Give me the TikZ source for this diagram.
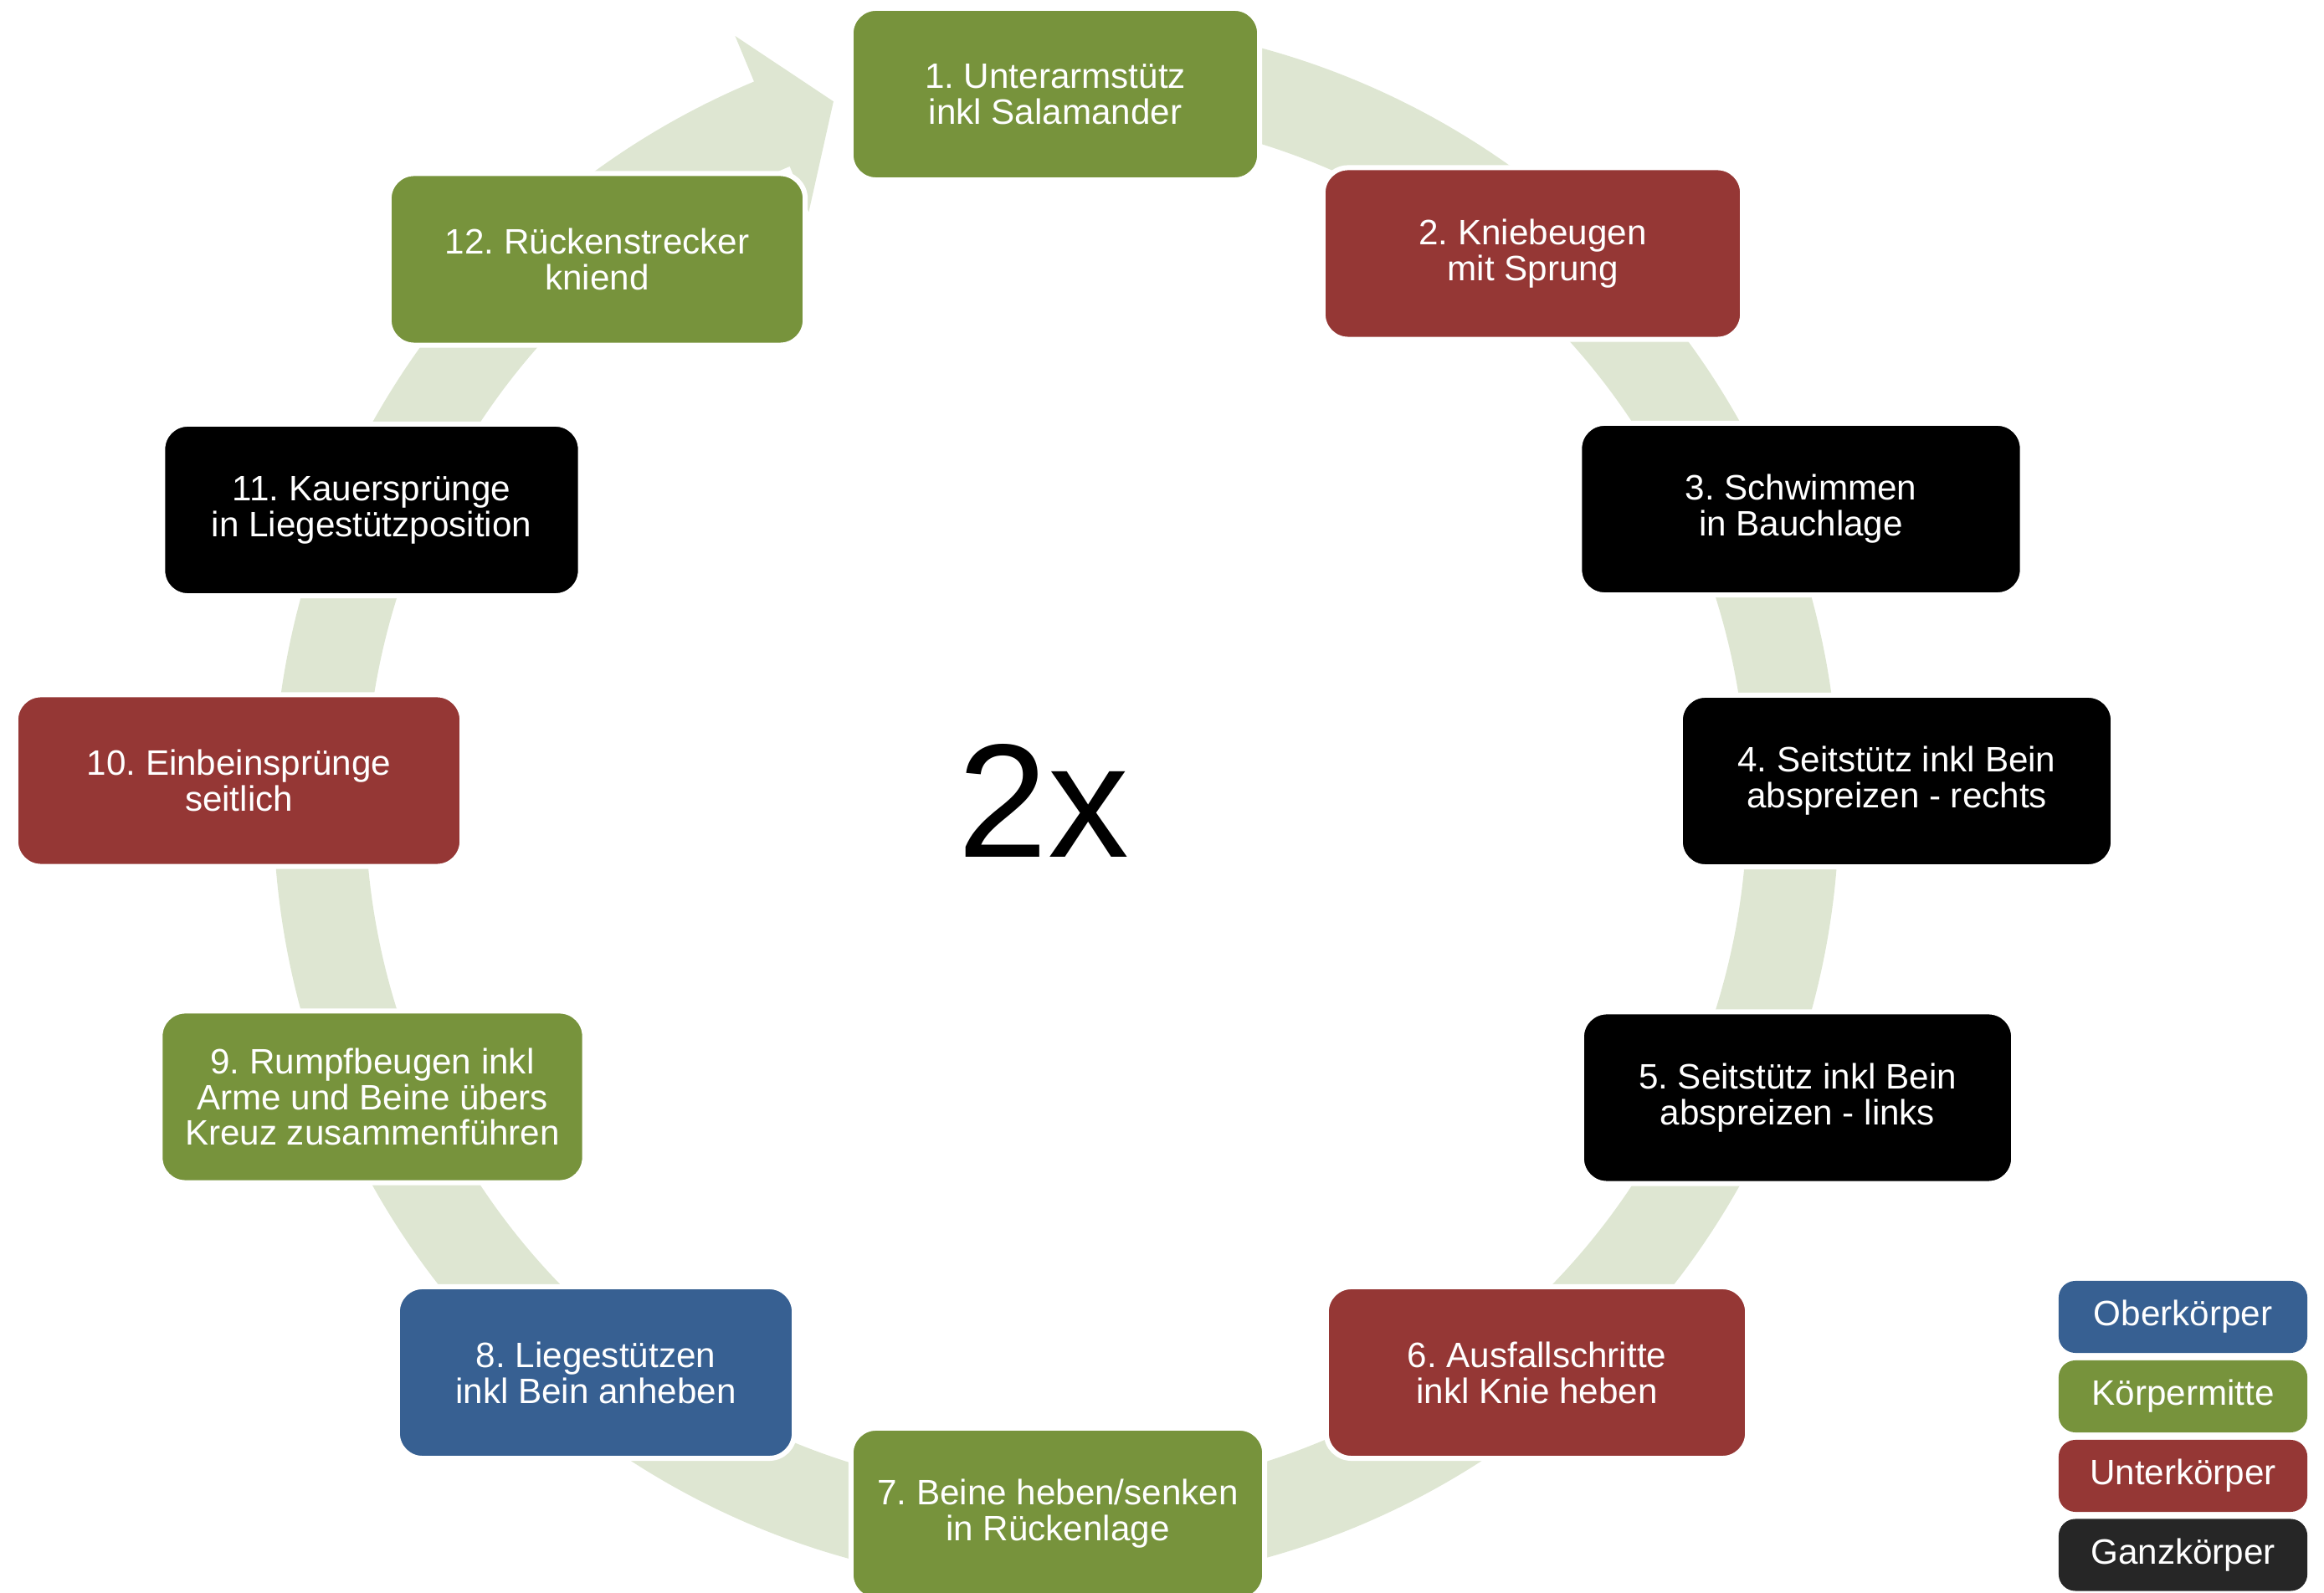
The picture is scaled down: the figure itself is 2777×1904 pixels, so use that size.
\documentclass[tikz,border=0pt]{standalone}
\usepackage{fontspec}
\setmainfont{Liberation Sans}
\usetikzlibrary{calc}
\definecolor{cgreen}{RGB}{119,147,60}
\definecolor{cred}{RGB}{149,55,53}
\definecolor{cblue}{RGB}{55,96,146}
\definecolor{cblack}{RGB}{0,0,0}
\definecolor{cgray}{RGB}{38,38,38}
\definecolor{ringc}{RGB}{222,230,210}
\frenchspacing
\begin{document}
\begin{tikzpicture}[x=0.01cm,y=0.01cm,
  stepbox/.style={rounded corners=0.3cm, draw=white, line width=0.06cm, text=white,
    font=\fontsize{12}{12.2}\selectfont\frenchspacing, align=center, inner sep=0pt, minimum height=2.05cm},
  legbox/.style={rounded corners=0.2cm, text=white, font=\fontsize{12}{12.2}\selectfont,
    align=center, inner sep=0pt, minimum height=0.86cm, minimum width=2.97cm},
  ring/.style={fill=ringc}]
\useasboundingbox (0,0) rectangle (2777,-1904);
\coordinate (C) at (1262,-960);
% circular arrow
\fill[ring] ($(C)+(95:935)$) arc[start angle=95, end angle=-247.3, radius=9.35cm]
  -- ($(C)+(-247.3:994)$) -- ($(C)+(-252.4:880)$) -- ($(C)+(-247.3:766)$)
  -- ($(C)+(-247.3:825)$) arc[start angle=-247.3, end angle=95, radius=8.25cm] -- cycle;
% steps
\node[stepbox, fill=cgreen, minimum width=4.88cm] (s1) at (1261,-112.5) {1. Unterarmstütz\\inkl Salamander};
\node[stepbox, fill=cred, minimum width=5.01cm] (s2) at (1831.5,-303) {2. Kniebeugen\\mit Sprung};
\node[stepbox, fill=cblack, minimum width=5.29cm] (s3) at (2152,-608.5) {3. Schwimmen\\in Bauchlage};
\node[stepbox, fill=cblack, minimum width=5.17cm] (s4) at (2266.5,-933.5) {4. Seitstütz inkl Bein\\abspreizen - rechts};
\node[stepbox, fill=cblack, minimum width=5.16cm] (s5) at (2148,-1312) {5. Seitstütz inkl Bein\\abspreizen - links};
\node[stepbox, fill=cred, minimum width=5.03cm] (s6) at (1836.5,-1640.5) {6. Ausfallschritte\\inkl Knie heben};
\node[stepbox, fill=cgreen, minimum width=4.94cm] (s7) at (1264,-1809.5) {7. Beine heben/senken\\in Rückenlage};
\node[stepbox, fill=cblue, minimum width=4.74cm] (s8) at (712,-1640.5) {8. Liegestützen\\inkl Bein anheben};
\node[stepbox, fill=cgreen, minimum width=5.07cm] (s9) at (445,-1311) {9. Rumpfbeugen inkl\\Arme und Beine übers\\Kreuz zusammenführen};
\node[stepbox, fill=cred, minimum width=5.33cm] (s10) at (285.5,-933) {10. Einbeinsprünge\\seitlich};
\node[stepbox, fill=cblack, minimum width=4.99cm] (s11) at (444,-609.5) {11. Kauersprünge\\in Liegestützposition};
\node[stepbox, fill=cgreen, minimum width=4.97cm] (s12) at (713.5,-310) {12. Rückenstrecker\\kniend};
% center label
\node[font=\fontsize{55}{60}\selectfont, inner sep=0pt] (rep) at (1247,-957) {2x};
% legend
\node[legbox, fill=cblue] (l1) at (2608.5,-1574) {Oberkörper};
\node[legbox, fill=cgreen] (l2) at (2608.5,-1669) {Körpermitte};
\node[legbox, fill=cred] (l3) at (2608.5,-1764) {Unterkörper};
\node[legbox, fill=cgray] (l4) at (2608.5,-1858.5) {Ganzkörper};
\end{tikzpicture}
\end{document}
